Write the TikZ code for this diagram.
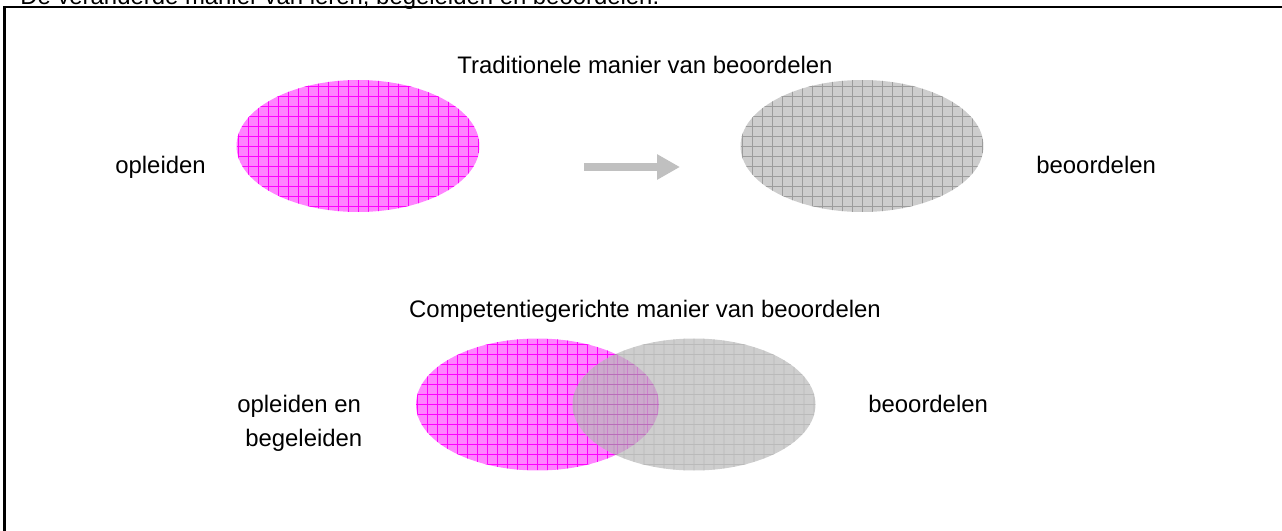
\documentclass[tikz,border=0pt]{standalone}
\usepackage{fontspec}
\setmainfont{Liberation Sans}
\usetikzlibrary{shapes.geometric,arrows.meta}

\definecolor{pinkfill}{HTML}{FF84FF}
\definecolor{pinkline}{HTML}{FF00FF}
\definecolor{greyfill}{HTML}{CDCDCD}
\definecolor{greyline}{HTML}{9C9C9C}
\definecolor{darkgreyfill}{HTML}{B9B9B9}
\definecolor{arrowgrey}{HTML}{C0C0C0}

\tikzset{
  txt/.style={font=\fontsize{13.6}{16}\selectfont, inner sep=0pt},
  blob/.style={ellipse, inner sep=0pt, minimum width=4.86cm, minimum height=2.64cm},
  pinkblob/.style={blob, fill=pinkfill,
    path picture={\draw[pinkline, line width=0.4pt] (path picture bounding box.south west) grid[step=0.2cm] (path picture bounding box.north east);}},
  greyblob/.style={blob, fill=#1,
    path picture={\draw[greyline, line width=0.4pt] (path picture bounding box.south west) grid[step=0.2cm] (path picture bounding box.north east);}},
  greyblob/.default=greyfill,
  bigarrow/.style={arrowgrey, line width=4.5pt, -{Triangle[length=0.46cm, width=0.48cm]}}
}

\begin{document}
\begin{tikzpicture}[x=0.02cm, y=-0.02cm]
  % Fix the page and cut off what runs over
  \useasboundingbox (0,0) rectangle (1282,531);
  \clip (0,0) rectangle (1282,531);

  % Draw the frame and the title
  \draw[line width=1.4pt] (4.7,560) |- (1300,7);
  \node[txt, anchor=base west] (title) at (20,4) {De veranderde manier van leren, begeleiden en beoordelen.};

  % Traditional way
  \node[txt, anchor=base] (trad) at (645,73) {Traditionele manier van beoordelen};
  \node[pinkblob] (leren1) at (358,146) {};
  \node[greyblob] (beoor1) at (862,146) {};
  \node[txt, anchor=base west] (opl1) at (115,173) {opleiden};
  \node[txt, anchor=base west] (bo1) at (1036,173) {beoordelen};
  \coordinate (arrstart) at (584,167);
  \coordinate (arrend) at (680,167);
  \draw[bigarrow] (arrstart) -- (arrend);

  % Competence based way
  \node[txt, anchor=base] (comp) at (645,317) {Competentiegerichte manier van beoordelen};
  \node[pinkblob] (leren2) at (537.5,404.5) {};
  \begin{scope}[transparency group, opacity=0.7]
    \node[greyblob=darkgreyfill] (beoor2) at (694,404.5) {};
  \end{scope}
  \node[txt, anchor=base west] (opl2) at (237,412) {opleiden en};
  \node[txt, anchor=base west] (beg2) at (245,446) {begeleiden};
  \node[txt, anchor=base west] (bo2) at (868,412) {beoordelen};
\end{tikzpicture}
\end{document}
